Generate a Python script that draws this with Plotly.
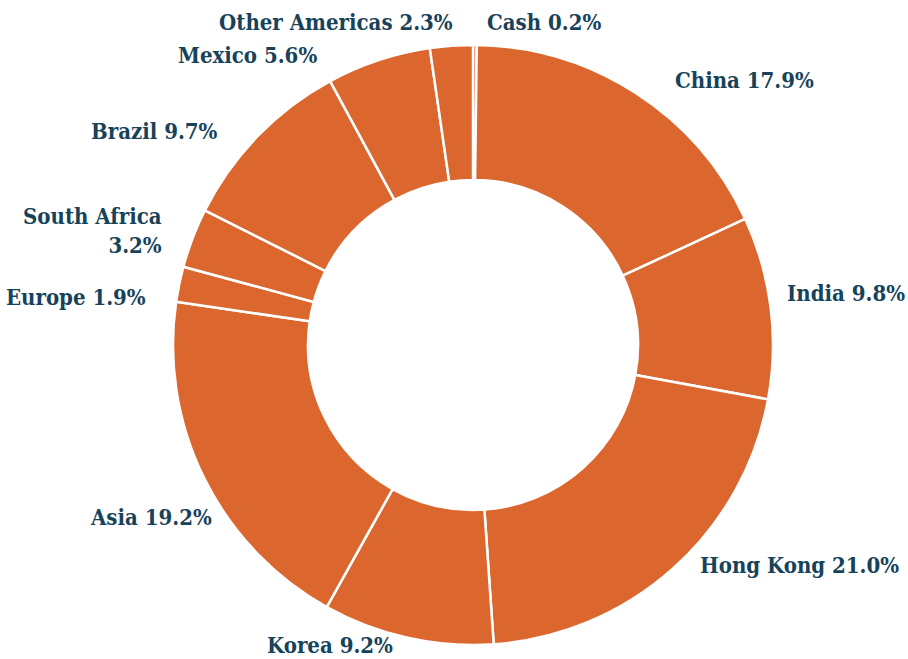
import plotly.graph_objects as go

labels = ["Cash", "China", "India", "Hong Kong", "Korea", "Asia", "Europe",
          "South Africa", "Brazil", "Mexico", "Other Americas"]
values = [0.2, 17.9, 9.8, 21.0, 9.2, 19.2, 1.9, 3.2, 9.7, 5.6, 2.3]
label_text = ["Cash", "China", "India", "Hong Kong", "Korea", "Asia", "Europe",
              "South Africa<br>", "Brazil", "Mexico", "Other Americas"]

W, H = 908, 659

# label anchor points in pixels (x, y, xanchor)
label_pos = {
    "Cash": (487, 22, "left"),
    "China": (675, 80, "left"),
    "India": (787, 293, "left"),
    "Hong Kong": (700, 565, "left"),
    "Korea": (330, 645, "center"),
    "Asia": (212, 517, "right"),
    "Europe": (146, 297, "right"),
    "South Africa": (162, 230, "right"),
    "Brazil": (218, 131, "right"),
    "Mexico": (317, 55, "right"),
    "Other Americas": (453, 22, "right"),
}

fig = go.Figure(
    go.Pie(
        labels=labels,
        values=values,
        sort=False,
        direction="clockwise",
        rotation=0,
        hole=0.55,
        marker=dict(colors=["#DC672E"] * len(values), line=dict(color="white", width=2.5)),
        textinfo="none",
        showlegend=False,
        domain=dict(x=[173 / W, 773 / W], y=[14 / H, 614 / H]),
    )
)

font = dict(family="DejaVu Serif Condensed, DejaVu Serif", size=22, color="#17435A", weight="bold")
for name, txt, v in zip(labels, label_text, values):
    px, py, xa = label_pos[name]
    fig.add_annotation(
        x=px / W, y=1 - py / H, xref="paper", yref="paper",
        text=f"{txt} {v:.1f}%", showarrow=False, xanchor=xa, yanchor="middle",
        align="right" if xa == "right" else "left", font=font,
        borderpad=0, borderwidth=0,
    )

fig.update_layout(
    width=W,
    height=H,
    margin=dict(l=0, r=0, t=0, b=0),
    paper_bgcolor="white",
    plot_bgcolor="white",
)

# drop the default page margin so the chart fills the window
fig.write_html("out.html", config={"displayModeBar": False},
               post_script="document.body.style.margin='0';")
